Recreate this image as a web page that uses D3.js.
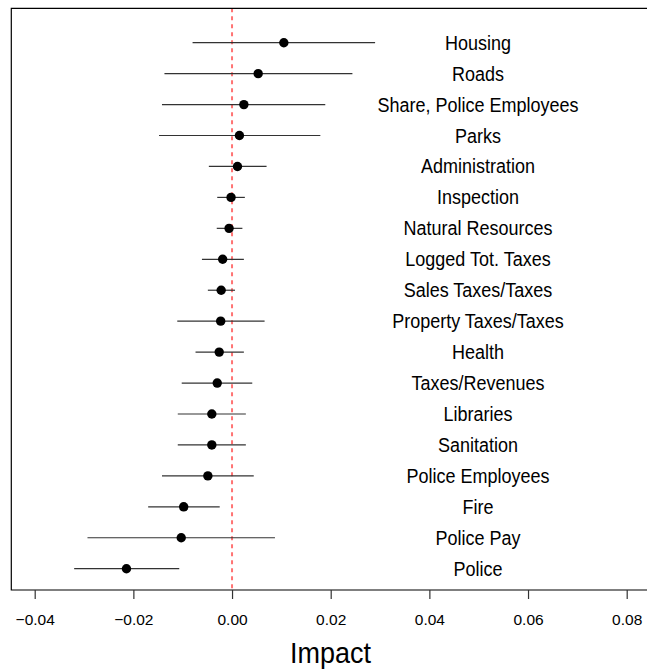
<!DOCTYPE html>
<html>
<head>
<meta charset="utf-8">
<script src="https://cdn.jsdelivr.net/npm/d3@7"></script>
<style>
  html, body { margin: 0; padding: 0; background: #fff; }
  svg { display: block; font-family: "Liberation Sans", Arial, Helvetica, sans-serif; }
</style>
</head>
<body>
<svg id="chart" width="647" height="671"></svg>
<script>
// Coefficient estimates with confidence intervals, listed top to bottom
const categories = [
  "Housing", "Roads", "Share, Police Employees", "Parks", "Administration",
  "Inspection", "Natural Resources", "Logged Tot. Taxes", "Sales Taxes/Taxes",
  "Property Taxes/Taxes", "Health", "Taxes/Revenues", "Libraries", "Sanitation",
  "Police Employees", "Fire", "Police Pay", "Police"
];
const estimates = [
  0.0105, 0.0053, 0.0024, 0.0015, 0.0011,
  -0.0002, -0.0006, -0.0019, -0.0022,
  -0.0023, -0.0026, -0.0030, -0.0041, -0.0041,
  -0.0049, -0.0098, -0.0103, -0.0214
];
const lower = [
  -0.0080, -0.0137, -0.0142, -0.0148, -0.0047,
  -0.0030, -0.0031, -0.0061, -0.0049,
  -0.0111, -0.0074, -0.0102, -0.0110, -0.0110,
  -0.0142, -0.0170, -0.0293, -0.0320
];
const upper = [
  0.0290, 0.0244, 0.0189, 0.0179, 0.0070,
  0.0026, 0.0021, 0.0024, 0.0006,
  0.0066, 0.0024, 0.0041, 0.0028, 0.0028,
  0.0044, -0.0025, 0.0087, -0.0107
];
const xTicks = [-0.04, -0.02, 0.00, 0.02, 0.04, 0.06, 0.08];
const xLabel = "Impact";

const svg = d3.select("#chart");

const plot = { left: 11.3, top: 8.3, bottom: 590 };

const x = d3.scaleLinear().domain([-0.04, 0.08]).range([34.7, 626.7]);
const y = d3.scalePoint().domain(categories).range([42.7, 568.7]);

const rows = categories.map((c, i) => ({
  name: c, est: estimates[i], lo: lower[i], hi: upper[i]
}));

// Reference line at zero impact
svg.append("line")
  .attr("x1", x(0)).attr("x2", x(0))
  .attr("y1", plot.top).attr("y2", plot.bottom)
  .attr("stroke", "rgba(255,0,0,0.55)")
  .attr("stroke-width", 2)
  .attr("stroke-dasharray", "4,4");

// Confidence intervals
svg.append("g").selectAll("line")
  .data(rows).join("line")
  .attr("x1", d => x(d.lo)).attr("x2", d => x(d.hi))
  .attr("y1", d => y(d.name)).attr("y2", d => y(d.name))
  .attr("stroke", "#333")
  .attr("stroke-width", 1.2);

// Point estimates
svg.append("g").selectAll("circle")
  .data(rows).join("circle")
  .attr("cx", d => x(d.est)).attr("cy", d => y(d.name))
  .attr("r", 4.7)
  .attr("fill", "#000");

// Row labels
svg.append("g").selectAll("text")
  .data(rows).join("text")
  .attr("transform", d => `translate(478,${y(d.name) + 7}) scale(1,1.12)`)
  .attr("text-anchor", "middle")
  .attr("font-size", 18)
  .attr("fill", "#000")
  .text(d => d.name);

// Plot frame (open on the right edge of the page)
svg.append("path")
  .attr("d", `M700,${plot.top}H${plot.left}V${plot.bottom}H700`)
  .attr("fill", "none")
  .attr("stroke", "#000")
  .attr("stroke-width", 1.2);

// Bottom axis
const axis = d3.axisBottom(x)
  .tickValues(xTicks)
  .tickSize(9)
  .tickPadding(0)
  .tickFormat(d => d3.format(".2f")(d).replace("-", "\u2212"));

const gAxis = svg.append("g")
  .attr("transform", `translate(0,${plot.bottom})`)
  .call(axis);
gAxis.select(".domain").remove();
gAxis.selectAll(".tick line").attr("stroke", "#333").attr("stroke-width", 1.2);
gAxis.selectAll(".tick text")
  .attr("font-size", 15.5)
  .attr("font-family", "'Liberation Sans', Arial, sans-serif")
  .attr("fill", "#000")
  .attr("dy", null)
  .attr("y", 34.5);

// Axis title
svg.append("text")
  .attr("transform", "translate(330.5,663.3) scale(1,1.12)")
  .attr("text-anchor", "middle")
  .attr("font-size", 27)
  .attr("fill", "#000")
  .text(xLabel);
</script>
</body>
</html>
